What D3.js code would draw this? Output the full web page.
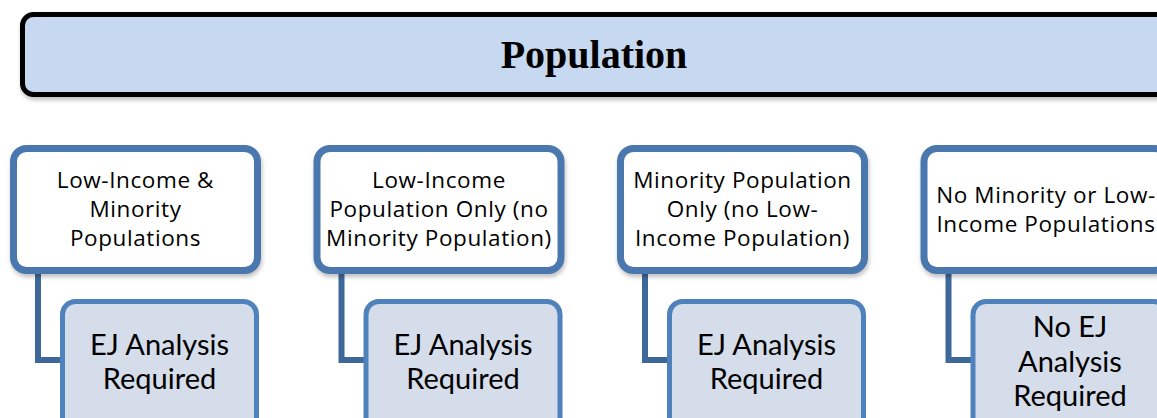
<!DOCTYPE html>
<html>
<head>
<meta charset="utf-8">
<script src="https://cdn.jsdelivr.net/npm/d3@7"></script>
<style>
  html, body { margin: 0; padding: 0; background: #fff; }
  svg { display: block; }
</style>
</head>
<body>
<div id="chart"></div>
<script>
'use strict';

var title = "Population";
var categories = ["lowMin", "lowOnly", "minOnly", "none"];
var groupLabels = [
    ["Low-Income &", "Minority", "Populations"],
    ["Low-Income", "Population Only (no", "Minority Population)"],
    ["Minority Population", "Only (no Low-", "Income Population)"],
    ["No Minority or Low-", "Income Populations"]
];
var outcomeLabels = [
    ["EJ Analysis", "Required"],
    ["EJ Analysis", "Required"],
    ["EJ Analysis", "Required"],
    ["No EJ", "Analysis", "Required"]
];

var width = 1157, height = 418;

var svg = d3.select("#chart").append("svg")
    .attr("width", width).attr("height", height);

var defs = svg.append("defs");
var f = defs.append("filter").attr("id", "shadow")
    .attr("x", "-10%").attr("y", "-10%").attr("width", "130%").attr("height", "140%");
f.append("feDropShadow").attr("dx", 1).attr("dy", 3).attr("stdDeviation", 2)
    .attr("flood-color", "#000").attr("flood-opacity", 0.25);

// top banner
svg.append("rect")
    .attr("x", 22.5).attr("y", 14.5)
    .attr("width", 1200).attr("height", 80)
    .attr("rx", 11).attr("ry", 11)
    .attr("fill", "#c6d9f0").attr("stroke", "#000").attr("stroke-width", 5)
    .attr("filter", "url(#shadow)");

svg.append("text")
    .text(title)
    .attr("x", 594).attr("y", 54)
    .attr("text-anchor", "middle").attr("dominant-baseline", "central")
    .attr("font-family", "Liberation Serif, DejaVu Serif, serif")
    .attr("font-weight", "bold").attr("font-size", 40)
    .attr("fill", "#000");

var x = d3.scaleBand()
    .domain(categories)
    .range([10, 1171.5])
    .paddingInner(0.173)
    .paddingOuter(0);

var bw = x.bandwidth();
var boxTop = 145, boxBottom = 274, sw = 7;
var subTop = 299, subSw = 5;

var g = svg.selectAll("g.group").data(categories).enter()
    .append("g").attr("class", "group")
    .attr("transform", function(d) { return "translate(" + x(d) + ",0)"; });

// connector
g.append("path")
    .attr("d", "M28," + (boxBottom - 2) + "V360H52")
    .attr("fill", "none").attr("stroke", "#3d6899").attr("stroke-width", 6);

// outcome boxes
g.append("rect")
    .attr("x", 50 + subSw / 2).attr("y", subTop + subSw / 2)
    .attr("width", bw - 52 - subSw).attr("height", 160)
    .attr("rx", 13).attr("ry", 13)
    .attr("fill", "#d5dcea").attr("stroke", "#4f81bd").attr("stroke-width", subSw);

// group boxes
g.append("rect")
    .attr("x", sw / 2).attr("y", boxTop + sw / 2)
    .attr("width", bw - sw).attr("height", boxBottom - boxTop - sw)
    .attr("rx", 13).attr("ry", 13)
    .attr("fill", "#fff").attr("stroke", "#4a77ae").attr("stroke-width", sw)
    .attr("filter", "url(#shadow)");

g.each(function(d, i) {
    var sel = d3.select(this);
    var lines = groupLabels[i];
    var lh = 29;
    var cy = (boxTop + boxBottom) / 2 - 1;
    var y0 = cy - (lines.length - 1) * lh / 2;
    lines.forEach(function(s, j) {
        sel.append("text")
            .text(s)
            .attr("x", bw / 2).attr("y", y0 + j * lh)
            .attr("text-anchor", "middle").attr("dominant-baseline", "central")
            .attr("font-family", "Open Sans, sans-serif").attr("font-size", 22.5)
            .attr("letter-spacing", 0.6)
            .attr("fill", "#000");
    });

    var out = outcomeLabels[i];
    var lh2 = 34.5;
    var cy2 = out.length === 3 ? 360 : 360.5;
    var y1 = cy2 - (out.length - 1) * lh2 / 2;
    out.forEach(function(s, j) {
        sel.append("text")
            .text(s)
            .attr("x", 50 + (bw - 52) / 2).attr("y", y1 + j * lh2)
            .attr("text-anchor", "middle").attr("dominant-baseline", "central")
            .attr("font-family", "Lato, sans-serif").attr("font-size", 29)
            .attr("fill", "#000");
    });
});
</script>
</body>
</html>
